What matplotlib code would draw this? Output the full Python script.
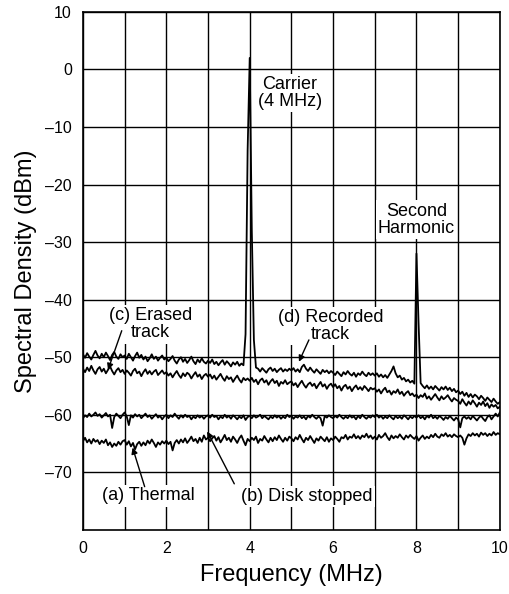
import numpy as np
import matplotlib
matplotlib.use("Agg")
import matplotlib.pyplot as plt

plt.rcParams['font.family'] = ['Liberation Sans', 'DejaVu Sans']

# Frequency grid (MHz), 0.05 MHz steps
freq = np.linspace(0, 10, 201)

# (a) Thermal noise (dBm)
thermal = [
    -64.6, -64.0, -64.8, -64.3, -65.0, -64.2, -64.7, -64.4, -65.1, -64.5, -64.9, -64.3, -65.3, -64.8, -65.6, -65.0, -65.4, -64.7, -65.2, -64.6,
    -64.4, -65.2, -64.6, -65.5, -64.9, -66.0, -65.1, -64.7, -65.4, -64.8, -65.3, -64.5, -65.0, -64.3, -64.9, -65.6, -64.8, -65.2, -64.6, -65.0,
    -64.5, -65.1, -64.7, -66.2, -64.9, -64.4, -65.0, -64.3, -64.8, -64.1, -64.9, -64.4, -63.8, -64.6, -64.2, -64.9, -64.0, -64.7, -63.6, -64.3,
    -64.0, -64.6, -64.1, -63.7, -64.5, -63.9, -64.8, -64.2, -63.5, -64.4, -64.0, -64.7, -63.8, -64.3, -64.9, -64.1, -63.6, -64.5, -65.3, -64.2,
    -64.6, -64.0, -64.4, -63.8, -64.9, -64.2, -64.5, -63.7, -64.3, -64.8, -64.0, -64.6, -63.9, -64.4, -63.6, -64.2, -64.7, -64.0, -64.5, -63.8,
    -64.1, -64.6, -63.9, -64.3, -63.5, -64.2, -64.8, -64.0, -64.4, -63.7, -64.3, -64.9, -64.1, -64.5, -63.8, -64.2, -64.6, -63.9, -64.7, -64.1,
    -64.4, -63.8, -64.2, -64.7, -63.9, -64.1, -63.5, -64.3, -63.8, -64.0, -63.4, -64.1, -63.7, -64.2, -63.6, -63.9, -63.3, -64.0, -63.6, -64.2,
    -63.8, -64.3, -63.5, -64.0, -63.7, -63.2, -63.9, -64.4, -63.6, -64.1, -63.7, -64.0, -63.4, -63.9, -64.3, -63.6, -64.0, -63.5, -63.9, -64.2,
    -63.7, -64.5, -64.0, -63.6, -64.2, -63.8, -64.1, -63.5, -63.9, -63.3, -63.8, -64.0, -63.4, -63.7, -63.2, -63.8, -63.5, -63.9, -63.4, -63.7,
    -63.9, -63.6, -64.0, -65.2, -64.1, -63.4, -63.7, -63.2, -63.6, -63.3, -63.8, -63.1, -63.5, -63.2, -63.7, -63.3, -63.6, -63.0, -63.5, -63.2,
    -63.4,
]

# (b) Disk stopped (dBm)
disk_stopped = [
    -60.6, -60.1, -60.4, -59.8, -60.3, -60.0, -59.6, -60.2, -59.9, -60.5, -60.1, -59.7, -60.3, -60.0, -62.3, -60.4, -59.8, -60.2, -60.6, -60.0,
    -59.6, -60.3, -61.8, -60.1, -60.5, -59.9, -60.3, -60.0, -60.6, -60.2, -59.8, -60.4, -60.1, -60.7, -60.3, -59.9, -60.5, -60.2, -60.8, -60.3,
    -60.0, -60.6, -60.1, -60.4, -59.8, -60.3, -60.7, -60.1, -60.5, -60.0, -60.4, -60.2, -60.8, -60.3, -60.6, -60.1, -60.5, -60.2, -60.7, -60.3,
    -60.1, -60.5, -60.0, -60.4, -60.2, -60.8, -60.3, -60.6, -60.0, -60.5, -60.2, -60.7, -60.1, -60.4, -60.8, -60.3, -60.6, -60.1, -60.9, -60.4,
    -60.2, -60.6, -60.1, -60.5, -60.3, -60.0, -60.6, -60.2, -60.5, -60.8, -60.3, -60.6, -60.1, -60.5, -60.2, -60.7, -60.3, -60.6, -60.0, -60.4,
    -60.2, -60.7, -60.3, -60.5, -60.1, -60.6, -60.3, -60.8, -60.2, -60.5, -60.0, -60.4, -60.7, -60.3, -60.6, -61.9, -60.2, -60.5, -60.1, -60.4,
    -60.6, -60.2, -60.5, -60.0, -60.4, -60.7, -60.3, -60.6, -60.1, -60.5, -60.3, -60.8, -60.2, -60.6, -60.0, -60.4, -60.7, -60.3, -60.5, -60.1,
    -60.4, -60.0, -60.5, -60.2, -60.7, -60.3, -60.6, -60.1, -60.5, -60.8, -60.2, -60.6, -60.3, -60.7, -60.1, -60.4, -60.8, -60.3, -60.6, -60.2,
    -60.5, -60.1, -60.6, -60.3, -60.8, -60.2, -60.5, -60.0, -60.6, -60.3, -60.7, -60.2, -60.5, -60.9, -60.4, -60.7, -60.2, -60.6, -61.0, -60.5,
    -60.8, -62.2, -60.6, -60.3, -60.7, -60.4, -60.8, -60.2, -60.6, -61.0, -60.5, -60.2, -60.7, -61.1, -60.4, -60.1, -60.8, -60.3, -59.8, -60.3,
    -59.6,
]

# (c) Erased track (dBm)
erased = [
    -52.0, -52.6, -51.8, -52.4, -51.5, -52.3, -52.9, -52.1, -51.7, -52.5, -52.0, -52.8, -52.2, -51.6, -52.4, -53.0, -52.3, -51.9, -52.6, -52.2,
    -52.9, -52.3, -52.7, -53.2, -52.4, -52.0, -52.8, -52.5, -53.3, -52.6, -52.1, -52.9, -52.4, -53.0, -52.5, -52.2, -53.1, -52.7, -52.3, -52.9,
    -52.6, -53.2, -52.8, -53.5, -52.9, -52.4, -53.1, -53.6, -52.8, -53.3, -52.7, -53.0, -53.7, -53.1, -52.6, -53.4, -53.0, -53.8, -53.2, -52.9,
    -53.4, -53.0, -53.7, -53.2, -53.9, -53.4, -52.9, -53.6, -54.1, -53.3, -53.8, -53.5, -54.3, -53.7, -53.2, -53.9, -54.4, -53.6, -54.0, -53.7,
    -54.1, -53.6, -54.3, -53.9, -54.7, -54.0, -53.7, -54.4, -54.0, -54.8, -54.2, -53.8, -54.5, -54.1, -55.0, -54.3, -54.6, -54.0, -54.7, -54.4,
    -54.2, -54.9, -54.5, -55.2, -54.6, -54.1, -54.8, -55.3, -54.7, -54.4, -55.0, -54.6, -55.4, -54.8, -54.3, -55.1, -54.7, -55.5, -54.9, -54.6,
    -55.2, -54.7, -55.4, -55.0, -55.8, -55.1, -54.8, -55.5, -55.1, -55.9, -55.3, -54.9, -55.6, -55.2, -55.7, -55.0, -55.4, -55.9, -55.3, -55.6,
    -55.4, -56.0, -55.6, -56.3, -55.7, -55.3, -56.1, -55.8, -56.5, -55.9, -56.2, -55.6, -56.4, -56.0, -56.7, -56.2, -55.9, -56.6, -56.3, -56.8,
    -56.5, -57.1, -56.6, -56.9, -56.3, -57.2, -56.8, -57.4, -56.9, -56.4, -57.0, -57.5, -56.8, -57.3, -57.0, -56.6, -57.2, -57.7, -57.1, -57.4,
    -57.6, -58.1, -57.3, -57.9, -58.4, -57.7, -58.2, -57.5, -58.0, -58.6, -57.9, -58.3, -57.7, -58.5, -58.0, -58.8, -58.2, -58.6, -58.3, -58.9,
    -58.6,
]

# (d) Recorded track (dBm), with carrier at 4 MHz and second harmonic at 8 MHz
recorded = [
    -49.5, -50.1, -49.3, -49.9, -50.4, -49.6, -48.9, -49.7, -50.2, -49.4, -50.0, -49.2, -49.8, -50.5, -49.6, -49.1, -49.9, -50.3, -49.5, -50.0,
    -49.7, -50.3, -49.4, -50.0, -50.6, -49.8, -49.2, -50.1, -49.6, -50.4, -49.9, -50.7, -50.2, -49.5, -50.3, -49.9, -50.6, -50.1, -49.7, -50.4,
    -50.1, -50.7, -50.3, -49.8, -50.6, -51.1, -50.4, -50.0, -50.8, -50.3, -51.0, -50.5, -49.9, -50.7, -51.2, -50.4, -50.9, -50.2, -50.8, -51.1,
    -50.6, -51.0, -50.4, -51.2, -50.8, -51.4, -50.9, -50.5, -51.3, -50.7, -51.1, -51.6, -50.9, -51.3, -50.8, -51.5, -51.1, -51.4, -46.0, -14.0,
    2.0, -28.0, -47.0, -51.8, -52.0, -52.5, -51.9, -52.3, -52.7, -52.1, -51.8, -52.4, -52.0, -52.6, -52.2, -51.9, -52.5, -52.1, -52.4, -52.0,
    -52.3, -51.9, -52.5, -52.1, -52.6, -51.7, -51.3, -52.0, -52.4, -51.8, -52.3, -52.7, -52.1, -52.5, -52.9, -52.2, -52.6, -52.3, -52.8, -52.4,
    -52.7, -53.1, -52.5, -52.9, -53.3, -52.6, -53.0, -52.4, -52.9, -53.2, -52.7, -53.4, -52.8, -53.1, -52.5, -53.0, -53.3, -52.7, -53.1, -52.8,
    -53.2, -52.8, -53.4, -53.0, -53.5, -53.1, -53.6, -53.0, -52.4, -51.6, -52.8, -53.5, -53.2, -53.9, -53.6, -54.2, -53.9, -54.4, -54.1, -54.6,
    -32.0, -44.0, -54.5, -55.0, -55.4, -54.9, -55.5, -55.1, -55.6, -55.0, -55.4, -55.8, -55.2, -55.6, -55.1, -55.7, -55.3, -55.9, -55.5, -56.1,
    -55.8, -56.4, -56.0, -56.7, -56.2, -56.9, -56.4, -57.0, -56.5, -56.8, -57.3, -56.7, -57.1, -57.6, -57.0, -57.4, -57.8, -57.2, -57.7, -58.1,
    -57.8,
]

x_ticks = [0, 2, 4, 6, 8, 10]
y_ticks = [10, 0, -10, -20, -30, -40, -50, -60, -70]

fig = plt.figure(figsize=(5.09, 5.94), dpi=100)
ax = fig.add_axes([0.163, 0.108, 0.819, 0.872])

for series in (thermal, disk_stopped, erased, recorded):
    ax.plot(freq, series, color='black', lw=1.3, zorder=3)

ax.set_xlim(0, 10)
ax.set_ylim(-80, 10)
ax.set_xticks(np.arange(0, 11, 1), minor=True)
ax.set_xticks(x_ticks)
ax.set_yticks(y_ticks)
ax.set_yticklabels([str(v).replace('-', '\u2013') for v in y_ticks])
ax.grid(True, which='both', axis='x', color='black', lw=1.0, zorder=1)
ax.grid(True, which='major', axis='y', color='black', lw=1.0, zorder=1)
ax.tick_params(which='both', length=0, labelsize=11.5, pad=8)
for s in ax.spines.values():
    s.set_linewidth(1.2)
    s.set_color('black')

ax.set_xlabel('Frequency (MHz)', fontsize=17, labelpad=6)
ax.set_ylabel('Spectral Density (dBm)', fontsize=17, labelpad=6)

box = dict(facecolor='white', edgecolor='none', pad=1.5)
tfs = 13
ax.text(4.96, -4.1, 'Carrier\n(4 MHz)', ha='center', va='center', fontsize=tfs,
        bbox=box, zorder=4, linespacing=1.0)
ax.text(8.0, -26.1, 'Second\nHarmonic', ha='center', va='center', fontsize=tfs,
        bbox=box, zorder=4, linespacing=1.0)
ax.text(1.62, -44.3, '(c) Erased\ntrack', ha='center', va='center', fontsize=tfs,
        bbox=box, zorder=4, linespacing=1.0)
ax.text(5.94, -44.6, '(d) Recorded\ntrack', ha='center', va='center', fontsize=tfs,
        bbox=box, zorder=4, linespacing=1.0)
ax.text(1.58, -74.1, '(a) Thermal', ha='center', va='center', fontsize=tfs,
        bbox=box, zorder=4)
ax.text(5.37, -74.2, '(b) Disk stopped', ha='center', va='center', fontsize=tfs,
        bbox=box, zorder=4)

arrow = dict(arrowstyle='-|>', color='black', lw=1.0, mutation_scale=9,
             shrinkA=0, shrinkB=0)
ax.annotate('', xy=(0.6, -52.2), xytext=(0.93, -45.4), arrowprops=arrow, zorder=5)
ax.annotate('', xy=(5.18, -50.8), xytext=(5.42, -47.0), arrowprops=arrow, zorder=5)
ax.annotate('', xy=(1.19, -65.7), xytext=(1.48, -72.5), arrowprops=arrow, zorder=5)
ax.annotate('', xy=(2.98, -62.9), xytext=(3.63, -72.0), arrowprops=arrow, zorder=5)

fig.savefig('out.png', dpi=100)
